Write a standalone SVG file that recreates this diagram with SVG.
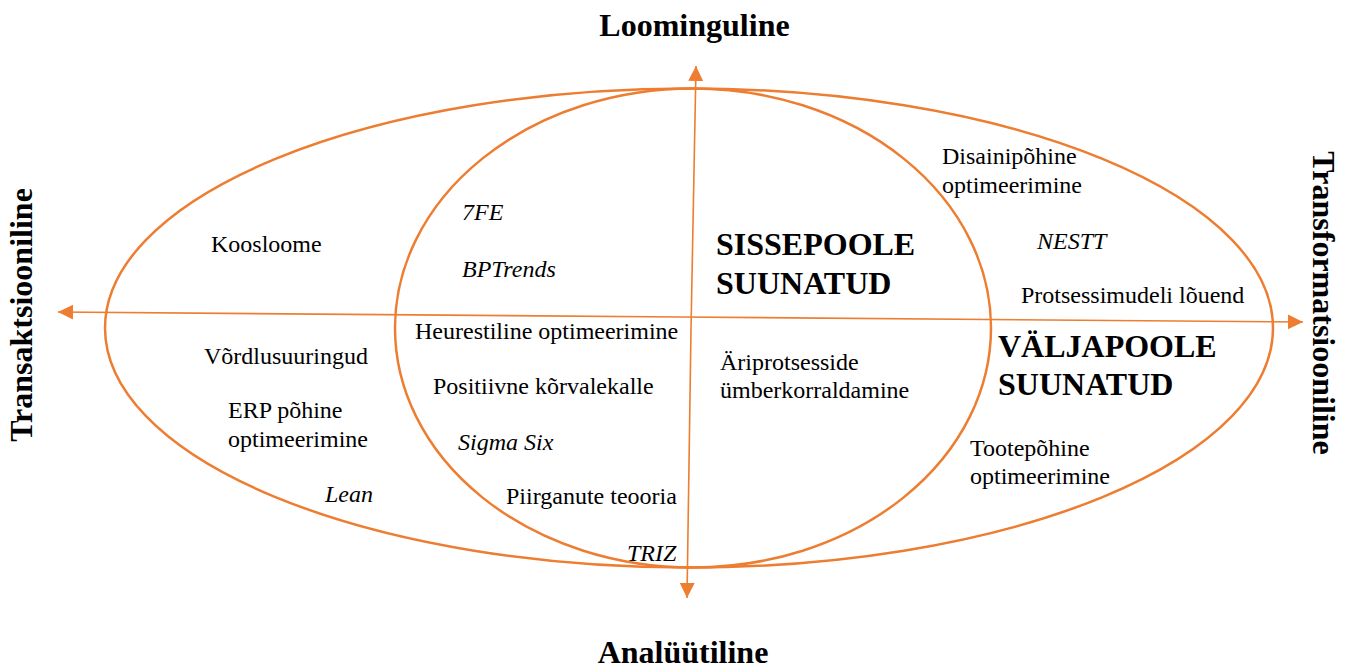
<svg xmlns="http://www.w3.org/2000/svg" width="1351" height="669" viewBox="0 0 1351 669">
  <style>
    .ring { fill: none; stroke: #ED7D31; stroke-width: 2.5; }
    .axis { stroke: #ED7D31; stroke-width: 1.6; fill: none; }
    .t { font-family: "Liberation Serif", "Times New Roman", serif; font-size: 24px; fill: #000; }
    .i { font-style: italic; }
    .b { font-family: "Liberation Serif", "Times New Roman", serif; font-size: 32px; font-weight: bold; fill: #000; }
  </style>
  <defs>
    <marker id="arrow" markerUnits="userSpaceOnUse" markerWidth="16" markerHeight="16" refX="15" refY="7.5" orient="auto">
      <path d="M0,0 L15,7.5 L0,15 Z" fill="#ED7D31"/>
    </marker>
  </defs>
  <rect width="1351" height="669" fill="#fff"/>

  <!-- outer and inner rings -->
  <g id="outer-ring">
    <ellipse class="ring" cx="689" cy="328" rx="584" ry="239.5"/>
  </g>
  <g id="inner-ring">
    <ellipse class="ring" cx="693" cy="328" rx="298" ry="239.5"/>
  </g>

  <!-- axes -->
  <g id="connectors">
    <line class="axis" x1="680" y1="317" x2="58" y2="312" marker-end="url(#arrow)"/>
    <line class="axis" x1="680" y1="317" x2="1303" y2="322" marker-end="url(#arrow)"/>
    <line class="axis" x1="691" y1="330" x2="696" y2="66" marker-end="url(#arrow)"/>
    <line class="axis" x1="691" y1="330" x2="687" y2="598" marker-end="url(#arrow)"/>
  </g>

  <!-- axis titles -->
  <g id="axis-top"><text class="b" x="694.5" y="36" text-anchor="middle">Loominguline</text></g>
  <g id="axis-bottom"><text class="b" x="683" y="663" text-anchor="middle">Analüütiline</text></g>
  <g id="axis-left"><text class="b" transform="translate(32,315) rotate(-90)" text-anchor="middle">Transaktsiooniline</text></g>
  <g id="axis-right"><text class="b" transform="translate(1313,303) rotate(90)" text-anchor="middle">Transformatsiooniline</text></g>

  <!-- region titles -->
  <g id="inward">
    <text class="b" x="716" y="255">SISSEPOOLE</text>
    <text class="b" x="716" y="294">SUUNATUD</text>
  </g>
  <g id="outward">
    <text class="b" x="998" y="357">VÄLJAPOOLE</text>
    <text class="b" x="998" y="395">SUUNATUD</text>
  </g>

  <!-- methods -->
  <g id="koosloome"><text class="t" x="211" y="252">Koosloome</text></g>
  <g id="vordlusuuringud"><text class="t" x="204" y="364">Võrdlusuuringud</text></g>
  <g id="erp">
    <text class="t" x="228" y="418">ERP põhine</text>
    <text class="t" x="228" y="447">optimeerimine</text>
  </g>
  <g id="lean"><text class="t i" x="325" y="502">Lean</text></g>
  <g id="7fe"><text class="t i" x="462" y="220">7FE</text></g>
  <g id="bptrends"><text class="t i" x="462" y="277">BPTrends</text></g>
  <g id="heurestiline"><text class="t" x="415" y="339">Heurestiline optimeerimine</text></g>
  <g id="positiivne"><text class="t" x="433" y="394">Positiivne kõrvalekalle</text></g>
  <g id="sigma-six"><text class="t i" x="458" y="450">Sigma Six</text></g>
  <g id="piirganute"><text class="t" x="506" y="504">Piirganute teooria</text></g>
  <g id="triz"><text class="t i" x="627" y="561">TRIZ</text></g>
  <g id="ariprotsesside">
    <text class="t" x="720" y="370">Äriprotsesside</text>
    <text class="t" x="720" y="398">ümberkorraldamine</text>
  </g>
  <g id="disainipohine">
    <text class="t" x="942" y="164">Disainipõhine</text>
    <text class="t" x="942" y="193">optimeerimine</text>
  </g>
  <g id="nestt"><text class="t i" x="1037" y="249">NESTT</text></g>
  <g id="protsessimudeli"><text class="t" x="1021" y="303">Protsessimudeli lõuend</text></g>
  <g id="tootepohine">
    <text class="t" x="970" y="456">Tootepõhine</text>
    <text class="t" x="970" y="484">optimeerimine</text>
  </g>
</svg>
